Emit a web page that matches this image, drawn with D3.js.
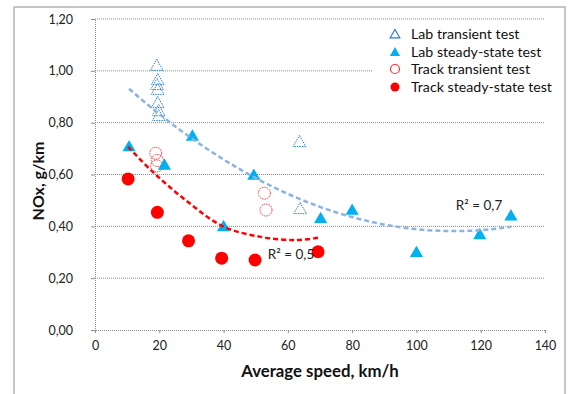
<!DOCTYPE html>
<html><head><meta charset="utf-8">
<script src="https://cdn.jsdelivr.net/npm/d3@7"></script>
<style>body{margin:0;background:#fff}svg{display:block;font-family:Lato,"Open Sans",sans-serif}</style>
</head><body><svg id="c" width="568" height="394"></svg>
<script>
// ---- data ----
const labTransientX = [19.2, 19.5, 19.3, 19.5, 19.5, 19.8, 19.8, 63.6, 63.8];
const labTransientY = [1.02, 0.965, 0.946, 0.927, 0.876, 0.845, 0.826, 0.726, 0.467];
const labSteadyX = [10.6, 21.6, 30.3, 40.0, 49.4, 70.2, 80.0, 100.0, 119.7, 129.4];
const labSteadyY = [0.708, 0.637, 0.749, 0.400, 0.598, 0.431, 0.463, 0.300, 0.369, 0.441];
const trackTransientX = [18.9, 19.4, 19.2, 52.7, 53.2];
const trackTransientY = [0.682, 0.654, 0.633, 0.528, 0.463];
const trackSteadyX = [10.3, 19.4, 29.1, 39.4, 49.8, 69.4];
const trackSteadyY = [0.583, 0.454, 0.344, 0.277, 0.270, 0.302];
// track trendline, points
const trackTrendX = [10.3, 17.9, 28.3, 40.0, 52.2, 62.6, 69.4];
const trackTrendY = [0.707, 0.611, 0.500, 0.399, 0.358, 0.347, 0.356];
const xTicks = [0, 20, 40, 60, 80, 100, 120, 140];
const yTicks = [0, 0.2, 0.4, 0.6, 0.8, 1.0, 1.2];
const legendLabels = ["Lab transient test", "Lab steady-state test", "Track transient test", "Track steady-state test"];
const r2Labels = ["R² = 0,7", "R² = 0,5"];

const svg = d3.select("#c");
const x = d3.scaleLinear().domain([0, 140]).range([95, 545]);
const y = d3.scaleLinear().domain([0, 1.2]).range([330, 19]);
const fmt = d => d3.format(".2f")(d).replace(".", ",");

// chart border
svg.append("rect").attr("x", 14).attr("y", 7).attr("width", 551).attr("height", 400)
  .attr("fill", "none").attr("stroke", "#b4b4b4").attr("stroke-width", 1.5);

// gridlines
svg.append("g").selectAll("line").data(yTicks.filter(d => d > 0)).join("line")
  .attr("x1", x(0)).attr("x2", x(140)).attr("y1", d => y(d)).attr("y2", d => y(d))
  .attr("stroke", "#8c8c8c").attr("stroke-width", 1).attr("stroke-dasharray", "1,1");

// axes
const yAxis = d3.axisLeft(y).tickValues(yTicks).tickFormat(fmt).tickSize(4).tickPadding(18);
const gy = svg.append("g").attr("transform", `translate(${x(0)},0)`).call(yAxis);
const xAxis = d3.axisBottom(x).tickValues(xTicks).tickFormat(d3.format("d")).tickSize(3).tickPadding(8);
const gx = svg.append("g").attr("transform", `translate(0,${y(0)})`).call(xAxis);
[gx, gy].forEach(g => {
  g.select(".domain").attr("stroke", "#8c8c8c").attr("stroke-dasharray", "1,1");
  g.selectAll(".tick line").attr("stroke", "#8c8c8c");
  g.selectAll("text").attr("font-size", 12.5).attr("fill", "#222").attr("font-family", "Lato,sans-serif");
});
gx.select(".domain").attr("d", `M${x(0)-3},0.5H${x(140)}`);

// axis titles
svg.append("text").attr("x", 320).attr("y", 377).attr("text-anchor", "middle")
  .attr("font-weight", "bold").attr("font-size", 16.8).attr("fill", "#111").text("Average speed, km/h");
svg.append("text").attr("transform", "translate(44,181) rotate(-90)").attr("text-anchor", "middle")
  .attr("font-weight", "bold").attr("font-size", 16).attr("fill", "#111").text("NOx, g/km");

// quadratic least squares
function quadFit(xs, ys) {
  let S = Array.from({length: 5}, () => 0), T = [0, 0, 0];
  xs.forEach((xv, i) => { for (let k = 0; k < 5; k++) S[k] += Math.pow(xv, k); for (let k = 0; k < 3; k++) T[k] += ys[i] * Math.pow(xv, k); });
  const A = [[S[0], S[1], S[2], T[0]], [S[1], S[2], S[3], T[1]], [S[2], S[3], S[4], T[2]]];
  for (let i = 0; i < 3; i++) {
    for (let j = i + 1; j < 3; j++) { const f = A[j][i] / A[i][i]; for (let k = i; k < 4; k++) A[j][k] -= f * A[i][k]; }
  }
  const c = [0, 0, 0];
  for (let i = 2; i >= 0; i--) { let s = A[i][3]; for (let k = i + 1; k < 3; k++) s -= A[i][k] * c[k]; c[i] = s / A[i][i]; }
  return c;
}
function fitTrend(xs, ys, color) {
  const c = quadFit(xs, ys);
  const lo = d3.min(xs), hi = d3.max(xs);
  const pts = d3.range(lo, hi + 0.001, (hi - lo) / 60).map(v => [v, c[0] + c[1] * v + c[2] * v * v]);
  svg.append("path").attr("d", d3.line().x(d => x(d[0])).y(d => y(d[1]))(pts))
    .attr("fill", "none").attr("stroke", color).attr("stroke-width", 2.5).attr("stroke-dasharray", "5,3");
}

const tri = d3.symbol().type(d3.symbolTriangle).size(75);
const triOpen = d3.symbol().type(d3.symbolTriangle).size(70);
const g = svg.append("g");

// track transient (open circles)
g.selectAll(".tt").data(trackTransientX.map((v, i) => [v, trackTransientY[i]])).join("circle")
  .attr("cx", d => x(d[0])).attr("cy", d => y(d[1])).attr("r", 6)
  .attr("fill", "none").attr("stroke", "#ff3030").attr("stroke-width", 1).attr("stroke-dasharray", "1.5,1");
// lab steady (filled triangles)
g.selectAll(".ls").data(labSteadyX.map((v, i) => [v, labSteadyY[i]])).join("path")
  .attr("d", tri).attr("transform", d => `translate(${x(d[0])},${y(d[1]) + 1})`).attr("fill", "#00b0f0");
// lab transient (open triangles)
g.selectAll(".lt").data(labTransientX.map((v, i) => [v, labTransientY[i]])).join("path")
  .attr("d", triOpen).attr("transform", d => `translate(${x(d[0])},${y(d[1]) + 1})`)
  .attr("fill", "none").attr("stroke", "#2a7fd0").attr("stroke-width", 1).attr("stroke-dasharray", "1.5,1");
// track steady (filled circles)
g.selectAll(".ts").data(trackSteadyX.map((v, i) => [v, trackSteadyY[i]])).join("circle")
  .attr("cx", d => x(d[0])).attr("cy", d => y(d[1])).attr("r", 6.5).attr("fill", "#ff0000");

// trendlines
fitTrend(labTransientX.concat(labSteadyX), labTransientY.concat(labSteadyY), "#8db3e2");
svg.append("path")
  .attr("d", d3.line().x(d => x(d[0])).y(d => y(d[1])).curve(d3.curveCatmullRom)(trackTrendX.map((v, i) => [v, trackTrendY[i]])))
  .attr("fill", "none").attr("stroke", "#ff0000").attr("stroke-width", 2.5).attr("stroke-dasharray", "5,3");

// R² labels
svg.append("text").attr("x", 479).attr("y", 210).attr("text-anchor", "middle").attr("font-size", 13.5).attr("fill", "#222").text(r2Labels[0]);
svg.append("text").attr("x", 291).attr("y", 259).attr("text-anchor", "middle").attr("font-size", 13.5).attr("fill", "#222").text(r2Labels[1]);

// legend
const lg = svg.append("g");
lg.append("rect").attr("x", 373).attr("y", 22).attr("width", 185).attr("height", 74).attr("fill", "#fff");
const ly = [34, 52, 69, 87];
legendLabels.forEach((t, i) => {
  const cy = ly[i], cx = 395;
  if (i === 0) lg.append("path").attr("d", d3.symbol().type(d3.symbolTriangle).size(40)).attr("transform", `translate(${cx},${cy + 1})`).attr("fill", "none").attr("stroke", "#2a7fd0").attr("stroke-width", 1.2);
  if (i === 1) lg.append("path").attr("d", d3.symbol().type(d3.symbolTriangle).size(45)).attr("transform", `translate(${cx},${cy + 1})`).attr("fill", "#00b0f0");
  if (i === 2) lg.append("circle").attr("cx", cx).attr("cy", cy).attr("r", 4.5).attr("fill", "none").attr("stroke", "#ff3030").attr("stroke-width", 1.2);
  if (i === 3) lg.append("circle").attr("cx", cx).attr("cy", cy).attr("r", 4.5).attr("fill", "#ff0000");
  lg.append("text").attr("x", 411).attr("y", cy).attr("dy", "0.35em").attr("font-size", 14.2).attr("fill", "#111").text(t);
});
</script></body></html>
